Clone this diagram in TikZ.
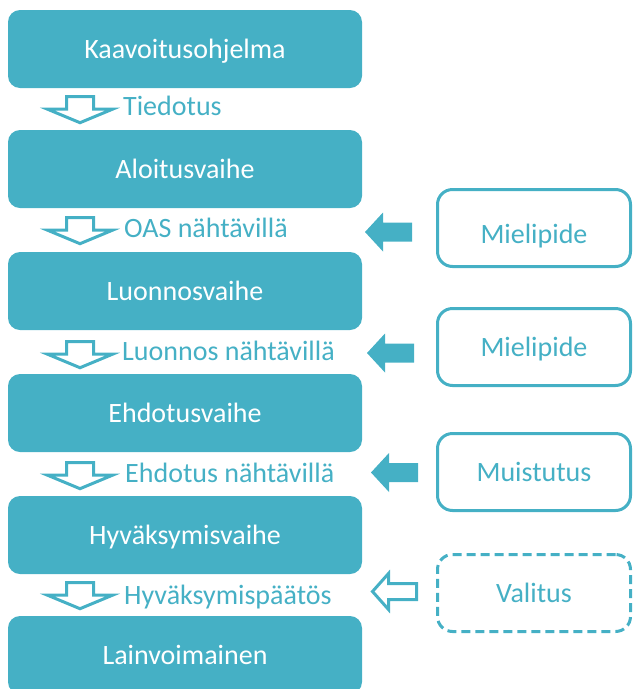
\documentclass[tikz,border=0pt]{standalone}
\usepackage{fontspec}
\setmainfont{Carlito}
\usetikzlibrary{calc}
\definecolor{kaava}{RGB}{69,176,197}
\def\downblock[#1]#2{\draw[#1] #2 ++(-13.5,0) -- ++(27,0) -- ++(0,12.5) -- ++(19,0) -- ++(-32.5,13.5) -- ++(-32.5,-13.5) -- ++(19,0) -- cycle;}
\def\leftblock[#1]#2{\draw[#1] #2 -- ++(18,-19.5) -- ++(0,10) -- ++(29,0) -- ++(0,19) -- ++(-29,0) -- ++(0,10) -- cycle;}
\def\leftoutline[#1]#2{\draw[#1] #2 -- ++(16,-18) -- ++(0,10) -- ++(28,0) -- ++(0,16) -- ++(-28,0) -- ++(0,10) -- cycle;}
\tikzset{
  vaihe/.style={fill=kaava, rounded corners=12pt, minimum width=354pt, minimum height=78pt, text=white, text height=24pt, text depth=5pt, font=\fontsize{28}{34}\selectfont},
  palaute/.style={draw=kaava, line width=3pt, fill=white, rounded corners=15pt, minimum width=193pt, minimum height=77pt, text=kaava, text height=24pt, text depth=6pt, font=\fontsize{28}{34}\selectfont},
  vaiheteksti/.style={anchor=base west, text=kaava, inner sep=0pt, font=\fontsize{28}{34}\selectfont},
  nuoli/.style={draw=kaava, line width=3pt, fill=white, line join=miter},
}

\begin{document}
\begin{tikzpicture}[x=1pt, y=-1pt]
			%%%%% START %%%%%
			\useasboundingbox (0, 0) rectangle (633, 689);
			
			\node[vaihe] (k1) at (185, 49) {Kaavoitusohjelma};
			\node[vaihe] (k2) at (185, 169) {Aloitusvaihe};
			\node[vaihe] (k3) at (185, 291) {Luonnosvaihe};
			\node[vaihe] (k4) at (185, 413) {Ehdotusvaihe};
			\node[vaihe] (k5) at (185, 535) {Hyväksymisvaihe};
			\node[vaihe] (k6) at (185, 655) {Lainvoimainen};
			
			\node[vaiheteksti] (t1) at (123, 115) {Tiedotus};
			\node[vaiheteksti] (t2) at (124, 237) {OAS nähtävillä};
			\node[vaiheteksti] (t3) at (122, 360) {Luonnos nähtävillä};
			\node[vaiheteksti] (t4) at (125, 482) {Ehdotus nähtävillä};
			\node[vaiheteksti] (t5) at (124, 604) {Hyväksymispäätös};
			
			\downblock[nuoli]{($(k1.south)+(-105, 8.5)$)}
			\downblock[nuoli]{($(k2.south)+(-105, 9.5)$)}
			\downblock[nuoli]{($(k3.south)+(-105, 11.5)$)}
			\downblock[nuoli]{($(k4.south)+(-105, 10.5)$)}
			\downblock[nuoli]{($(k5.south)+(-105, 8.5)$)}
			
			\node[palaute, text height=30pt, text depth=0pt] (m1) at (534, 228) {Mielipide};
			\node[palaute] (m2) at (534, 347) {Mielipide};
			\node[palaute] (m3) at (534, 472) {Muistutus};
			\node[palaute, dashed, dash pattern=on 9pt off 5pt] (m4) at (534, 593) {Valitus};
			
			\leftblock[fill=kaava, draw=none]{($(m1.west)+(-71, 4)$)}
			\leftblock[fill=kaava, draw=none]{($(m2.west)+(-69, 6)$)}
			\leftblock[fill=kaava, draw=none]{($(m3.west)+(-65, 0.5)$)}
			\leftoutline[nuoli]{($(m4.west)+(-63.5, -1.5)$)}
			
			%%%%% END %%%%%
\end{tikzpicture}
\end{document}
